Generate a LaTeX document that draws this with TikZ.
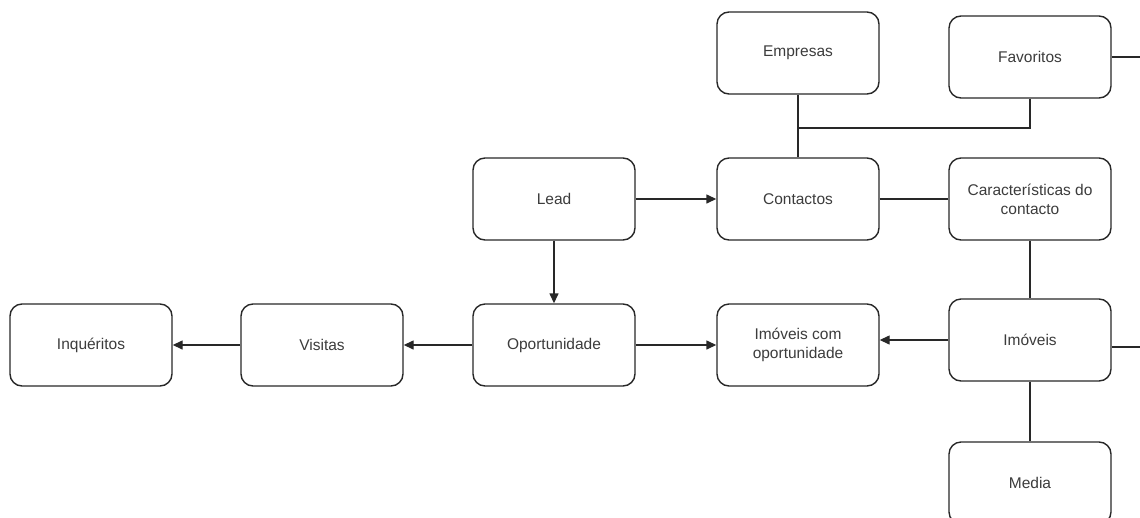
\documentclass[tikz,border=0pt]{standalone}
\usepackage{fontspec}
\setmainfont{Liberation Sans}
\usepackage{tikz}
\usetikzlibrary{arrows.meta, positioning}
\definecolor{bxLine}{RGB}{ 40, 40, 40}
\definecolor{bxText}{RGB}{ 60, 60, 60}

\begin{document}
\begin{tikzpicture}[x=1pt, y=-1pt,
    box/.style={draw=bxLine, line width=1.4pt, rounded corners=12pt, fill=white,
      minimum width=162pt, minimum height=82pt, align=center, text=bxText,
      font=\fontsize{15.5}{19}\selectfont},
    link/.style={draw=bxLine, line width=1.4pt},
    flow/.style={link, -{Triangle[length=10pt, width=9pt]}}
  ]
  \useasboundingbox (0,0) rectangle (1140,517);
  \clip (0,0) rectangle (1140,517);
  % boxes
  \node[box] (inqueritos) at (91,345)   {Inquéritos};
  \node[box] (visitas)    at (322,345)  {Visitas};
  \node[box] (oport)      at (554,345)  {Oportunidade};
  \node[box] (imovop)     at (798,345)  {Imóveis com\\oportunidade};
  \node[box] (imoveis)    at (1030,340) {Imóveis};
  \node[box] (media)      at (1030,483) {Media};
  \node[box] (lead)       at (554,199)  {Lead};
  \node[box] (contactos)  at (798,199)  {Contactos};
  \node[box] (caract)     at (1030,199) {Características do\\contacto};
  \node[box] (empresas)   at (798,53)   {Empresas};
  \node[box] (favoritos)  at (1030,57)  {Favoritos};
  \coordinate (jn)     at (798,128);
  \coordinate (favout) at (1160,57);
  \coordinate (imvout) at (1160,347);
  % arrows
  \draw[flow] (lead) -- (contactos);
  \draw[flow] (lead) -- (oport);
  \draw[flow] (oport) -- (visitas);
  \draw[flow] (visitas) -- (inqueritos);
  \draw[flow] (oport) -- (oport -| imovop.west);
  \draw[flow] (imoveis.west) -- (imoveis.west -| imovop.east);
  % plain links
  \draw[link] (contactos) -- (caract);
  \draw[link] (caract) -- (imoveis);
  \draw[link] (imoveis) -- (media);
  \draw[link] (empresas) -- (contactos);
  \draw[link] (favoritos.south) |- (jn);
  \draw[link] (favoritos.east) -- (favout);
  \draw[link] (imoveis.east |- imvout) -- (imvout);
\end{tikzpicture}
\end{document}
